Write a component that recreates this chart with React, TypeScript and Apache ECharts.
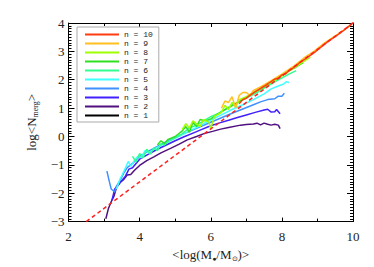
import React, { useEffect, useRef } from "react";
import * as echarts from "echarts";

const seriesNames = ["n = 1", "n = 2", "n = 3", "n = 4", "n = 5", "n = 6", "n = 7", "n = 8", "n = 9", "n = 10"];
const seriesColors = ["#000000", "#50107f", "#4020ff", "#4090ff", "#40ffff", "#30ff90", "#30e020", "#a0ff00", "#ffc020", "#ff3c10"];

const n1: number[][] = [];
const n2 = [[3.05,-2.9],[3.12,-2.55],[3.2,-2.3],[3.28,-2.1],[3.35,-1.8],[3.45,-1.62],[3.55,-1.52],[3.65,-1.36],[3.75,-1.34],[3.85,-1.2],[4.0,-1.02],[4.2,-0.85],[4.4,-0.72],[4.6,-0.58],[4.87,-0.42],[5.1,-0.28],[5.34,-0.12],[5.6,0.0],[5.81,0.1],[6.05,0.18],[6.28,0.26],[6.5,0.32],[6.84,0.4],[7.0,0.42],[7.2,0.44],[7.3,0.47],[7.4,0.41],[7.5,0.47],[7.6,0.43],[7.7,0.4],[7.8,0.43],[7.9,0.4],[7.95,0.28]];
const n3 = [[3.22,-2.25],[3.3,-1.85],[3.4,-1.7],[3.5,-1.55],[3.6,-1.4],[3.7,-1.15],[3.8,-1.1],[3.9,-0.95],[4.0,-0.8],[4.25,-0.62],[4.5,-0.45],[4.75,-0.3],[5.0,-0.15],[5.25,-0.01],[5.5,0.12],[5.75,0.25],[6.0,0.38],[6.25,0.48],[6.5,0.57],[6.75,0.67],[7.0,0.76],[7.25,0.85],[7.5,0.93],[7.6,0.96],[7.7,0.86],[7.8,0.87],[7.85,0.95],[7.95,0.8]];
const n4 = [[3.08,-1.22],[3.15,-1.6],[3.2,-1.85],[3.3,-1.95],[3.35,-1.75],[3.45,-1.55],[3.55,-1.3],[3.65,-1.1],[3.8,-0.95],[4.0,-0.7],[4.2,-0.55],[4.5,-0.35],[4.8,-0.15],[5.1,0.02],[5.4,0.18],[5.7,0.34],[6.0,0.5],[6.3,0.66],[6.6,0.82],[6.9,0.97],[7.2,1.12],[7.4,1.22],[7.6,1.3],[7.8,1.33],[7.9,1.42],[8.0,1.42],[8.07,1.52]];
const n5 = [[3.35,-1.85],[3.45,-1.5],[3.55,-1.25],[3.62,-1.05],[3.68,-0.88],[3.75,-1.05],[3.85,-0.85],[3.95,-0.7],[4.05,-0.75],[4.15,-0.5],[4.25,-0.58],[4.4,-0.45],[4.55,-0.35],[4.7,-0.25],[4.9,-0.12],[5.1,0.0],[5.4,0.2],[5.7,0.38],[6.0,0.58],[6.3,0.76],[6.6,0.95],[6.9,1.12],[7.2,1.3],[7.5,1.5],[7.7,1.68],[7.9,1.78],[8.05,1.85],[8.12,1.93],[8.2,1.9]];
const n6 = [[3.8,-0.7],[3.9,-0.9],[4.0,-0.6],[4.1,-0.75],[4.2,-0.45],[4.3,-0.62],[4.4,-0.4],[4.5,-0.5],[4.6,-0.25],[4.7,-0.3],[4.85,-0.15],[5.0,-0.05],[5.2,0.1],[5.4,0.3],[5.6,0.4],[5.8,0.55],[6.0,0.7],[6.2,0.8],[6.4,0.95],[6.7,1.15],[7.0,1.35],[7.3,1.55],[7.6,1.78],[7.9,2.0],[8.2,2.2],[8.4,2.32]];
const n7 = [[4.5,-0.3],[4.6,-0.15],[4.7,-0.25],[4.8,-0.1],[5.0,0.0],[5.2,0.2],[5.3,0.35],[5.4,0.15],[5.5,0.5],[5.6,0.35],[5.7,0.6],[5.85,0.55],[6.0,0.62],[6.2,0.8],[6.4,0.95],[6.6,1.1],[6.9,1.3],[7.2,1.55],[7.5,1.75],[7.8,2.0],[8.1,2.25],[8.4,2.45],[8.6,2.6]];
const n8 = [[5.2,0.25],[5.3,0.45],[5.4,0.3],[5.5,0.55],[5.6,0.45],[5.7,0.35],[5.8,0.6],[5.95,0.5],[6.0,0.28],[6.1,0.7],[6.3,0.85],[6.4,1.1],[6.5,0.95],[6.6,1.2],[6.7,1.05],[6.8,1.3],[7.0,1.4],[7.3,1.62],[7.6,1.85],[7.9,2.05],[8.2,2.3],[8.5,2.55],[8.8,2.8]];
const n9 = [[6.3,1.0],[6.4,1.25],[6.5,1.2],[6.6,1.4],[6.7,1.0],[6.8,1.45],[6.9,1.55],[7.0,1.55],[7.1,1.45],[7.2,1.62],[7.4,1.75],[7.7,1.97],[8.0,2.2],[8.3,2.45],[8.6,2.75],[8.9,3.0],[9.2,3.3],[9.5,3.55],[9.8,3.8],[10.0,4.0]];
const n10 = [[6.8,1.15],[6.9,1.3],[7.0,1.35],[7.1,1.45],[7.3,1.62],[7.5,1.77],[7.6,1.85],[7.8,2.02],[7.9,2.05],[8.0,2.17],[8.1,2.2],[8.2,2.32],[8.3,2.4],[8.4,2.5],[8.5,2.6],[8.7,2.77],[8.9,2.95],[9.1,3.15],[9.3,3.35],[9.5,3.52],[9.7,3.7],[9.9,3.9],[10.0,4.02]];
const seriesData = [n1, n2, n3, n4, n5, n6, n7, n8, n9, n10];

const fitLine = [[2.5, -3], [10, 4]];

const xTicks = { min: 2, max: 10, interval: 2 };
const yTicks = { min: -3, max: 4, interval: 1 };

const SERIF = "Liberation Serif";

export default function App() {
  const ref = useRef<HTMLDivElement>(null);
  useEffect(() => {
    if (!ref.current) return;
    const chart = echarts.init(ref.current, undefined, { renderer: "svg" });
    const axisCommon = {
      axisLine: { show: true, onZero: false, lineStyle: { color: "#000", width: 1 } },
      splitLine: { show: false },
    };
    const xBase = {
      type: "value" as const,
      min: xTicks.min,
      max: xTicks.max,
      interval: xTicks.interval,
      ...axisCommon,
      axisTick: { show: true, inside: true, length: 4, lineStyle: { color: "#000" } },
      minorTick: { show: true, splitNumber: 2, length: 3, lineStyle: { color: "#000" } },
    };
    const yBase = {
      type: "value" as const,
      min: yTicks.min,
      max: yTicks.max,
      interval: yTicks.interval,
      ...axisCommon,
      axisTick: { show: true, inside: true, length: 6, lineStyle: { color: "#000" } },
      minorTick: { show: true, splitNumber: 10, length: 3, lineStyle: { color: "#000" } },
    };
    const labelStyle = { fontFamily: SERIF, fontSize: 13, color: "#222" };
    chart.setOption({
      animation: false,
      backgroundColor: "#fff",
      grid: { left: 68.5, right: 21, top: 23, bottom: 45 },
      legend: {
        data: seriesNames.slice().reverse(),
        orient: "vertical",
        left: 77,
        top: 27,
        padding: [3, 6, 2, 8],
        itemGap: 0,
        itemWidth: 34,
        itemHeight: 2,
        icon: "rect",
        borderColor: "#aaa",
        borderWidth: 1,
        backgroundColor: "#fff",
        textStyle: { fontFamily: "Liberation Mono", fontSize: 8, color: "#222", lineHeight: 9, padding: [0, 0, 0, 0] },
        selectedMode: false,
      },
      xAxis: [
        {
          ...xBase,
          position: "bottom",
          axisLabel: { ...labelStyle, margin: 8 },
          name: "<log(M{sub|●}/M{sub|⊙})>",
          nameLocation: "middle",
          nameGap: 22,
          nameTextStyle: {
            fontFamily: SERIF,
            fontSize: 13,
            color: "#222",
            rich: { sub: { fontFamily: SERIF, fontSize: 7, color: "#222", padding: [9, 0, 0, 0] } },
          },
        },
        { ...xBase, position: "top", axisLabel: { show: false } },
      ],
      yAxis: [
        {
          ...yBase,
          position: "left",
          axisLabel: {
            ...labelStyle,
            margin: 4,
            formatter: (v: number) => (v < 0 ? "\u2212" + Math.abs(v) : String(v)),
          },
          name: "log<N{sub|merg}>",
          nameLocation: "middle",
          nameGap: 25,
          nameTextStyle: {
            fontFamily: SERIF,
            fontSize: 13,
            color: "#222",
            rich: { sub: { fontFamily: SERIF, fontSize: 8, color: "#222", padding: [9, 0, 0, 0] } },
          },
        },
        { ...yBase, position: "right", axisLabel: { show: false } },
      ],
      series: [
        ...seriesNames.map((name, i) => ({
          name,
          type: "line",
          data: seriesData[i],
          showSymbol: false,
          symbol: "none",
          color: seriesColors[i],
          lineStyle: { color: seriesColors[i], width: 1.5 },
          z: 2 + i,
        })),
        {
          name: "fit",
          type: "line",
          data: fitLine,
          showSymbol: false,
          symbol: "none",
          lineStyle: { color: "#ff2020", width: 1.5, type: [4, 3] },
          z: 20,
        },
      ],
    });
    return () => chart.dispose();
  }, []);
  return <div ref={ref} style={{ width: 374, height: 267, position: "absolute", left: 0, top: 0 }} />;
}
